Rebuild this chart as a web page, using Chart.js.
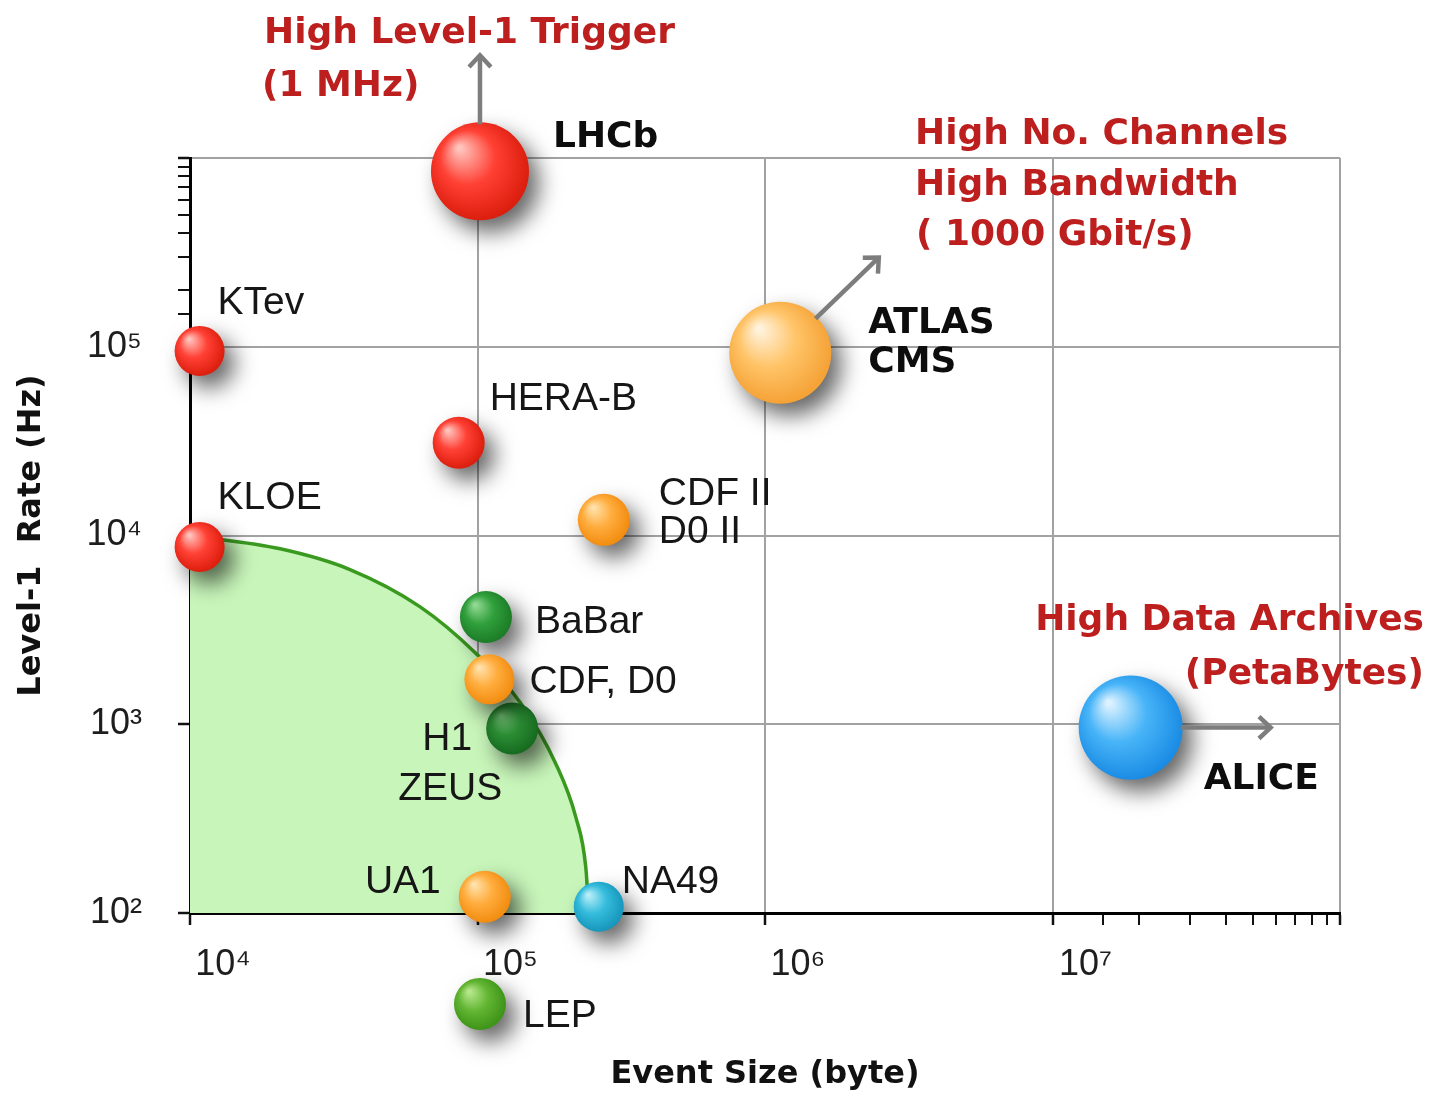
<!DOCTYPE html>
<html>
<head>
<meta charset="utf-8">
<script src="https://cdn.jsdelivr.net/npm/chart.js@4.4.1/dist/chart.umd.min.js"></script>
<style>
  html, body { margin: 0; padding: 0; background: #ffffff; }
  canvas { display: block; }
</style>
</head>
<body>
<canvas id="chart" width="1429" height="1098"></canvas>
<script>
// ---------------- DATA ----------------
const experiments = ['LHCb', 'KTev', 'HERA-B', 'KLOE', 'ATLAS / CMS', 'CDF II / D0 II',
                     'BaBar', 'H1 / ZEUS', 'CDF, D0', 'ALICE', 'UA1', 'NA49', 'LEP'];
// Event size (byte)
const eventSizes  = [1.02e5, 1.08e4, 8.6e4, 1.08e4, 1.13e6, 2.75e5,
                     1.07e5, 1.32e5, 1.10e5, 1.87e7, 1.06e5, 2.64e5, 1.02e5];
// Level-1 rate (Hz)
const level1Rates = [8.5e5, 9.5e4, 3.1e4, 8.7e3, 9.3e4, 1.21e4,
                     3.7e3, 950, 1.73e3, 960, 122, 108, 33];

// Boundary of the green "feasible" region
const boundarySizes = [1.0e4, 2.06e4, 3.6e4, 6.3e4, 9.8e4, 1.41e5, 1.87e5, 2.2e5, 2.38e5, 2.44e5];
const boundaryRates = [1.0e4, 8.5e3, 6.6e3, 4.2e3, 2.4e3, 1.3e3, 620, 320, 175, 100];

// Axis ticks
const xTickValues = [1e4, 1e5, 1e6, 1e7];
const xTickLabels = ['10⁴', '10⁵', '10⁶', '10⁷'];
const yTickValues = [1e2, 1e3, 1e4, 1e5];
const yTickLabels = ['10²', '10³', '10⁴', '10⁵'];

// ---------------- STYLE ----------------
const palette = {
  red:    { hi: '#ffc4bd', base: '#ff4034', dark: '#dc1e0e' },
  orange: { hi: '#ffe2ad', base: '#ffad3e', dark: '#f28c10' },
  peach:  { hi: '#fff3de', base: '#ffc468', dark: '#f5a236' },
  green:  { hi: '#93d994', base: '#30a03c', dark: '#1c7c27' },
  dgreen: { hi: '#72c474', base: '#2b8d34', dark: '#166a1f' },
  lgreen: { hi: '#b8e88e', base: '#63b633', dark: '#3e9418' },
  cyan:   { hi: '#b8eef8', base: '#35bcdc', dark: '#1696bb' },
  blue:   { hi: '#dcf2ff', base: '#48b4f8', dark: '#1a8ce4' }
};
const bubbleColor  = ['red', 'red', 'red', 'red', 'peach', 'orange',
                      'green', 'dgreen', 'orange', 'blue', 'orange', 'cyan', 'lgreen'];
const bubbleRadius = [49, 25, 26, 25, 51, 26, 26, 26, 25, 52, 26, 25, 26];

const FONT_REG  = 'Liberation Sans, Arial, sans-serif';
const FONT_BOLD = 'DejaVu Sans, Verdana, sans-serif';
const RED = '#bd1f1f';

// Labels next to the spheres (offsets in px from the sphere centre)
const labelSpecs = [
  { i: 0,  lines: ['LHCb'],            dx: 73,  dy: -24, bold: true },
  { i: 1,  lines: ['KTev'],            dx: 18,  dy: -37 },
  { i: 2,  lines: ['HERA-B'],          dx: 31,  dy: -33 },
  { i: 3,  lines: ['KLOE'],            dx: 18,  dy: -38 },
  { i: 4,  lines: ['ATLAS', 'CMS'],    dx: 88,  dy: -20, bold: true, lh: 39 },
  { i: 5,  lines: ['CDF II', 'D0 II'], dx: 55,  dy: -15, lh: 38 },
  { i: 6,  lines: ['BaBar'],           dx: 49,  dy: 16 },
  { i: 7,  lines: ['H1'],              dx: -40, dy: 22, align: 'right' },
  { i: 7,  lines: ['ZEUS'],            dx: -62, dy: 72, align: 'center' },
  { i: 8,  lines: ['CDF, D0'],         dx: 40,  dy: 14 },
  { i: 9,  lines: ['ALICE'],           dx: 73,  dy: 61, bold: true },
  { i: 10, lines: ['UA1'],             dx: -44, dy: -4, align: 'right' },
  { i: 11, lines: ['NA49'],            dx: 23,  dy: -14 },
  { i: 12, lines: ['LEP'],             dx: 43,  dy: 23 }
];

// Red headline annotations (canvas px)
const headlines = [
  { text: 'High Level-1 Trigger', x: 264,  y: 43,  align: 'left' },
  { text: '(1 MHz)',              x: 262,  y: 96,  align: 'left' },
  { text: 'High No. Channels',    x: 915,  y: 144, align: 'left' },
  { text: 'High Bandwidth',       x: 915,  y: 195, align: 'left' },
  { text: '( 1000 Gbit/s)',       x: 916,  y: 245, align: 'left' },
  { text: 'High Data Archives',   x: 1424, y: 630, align: 'right' },
  { text: '(PetaBytes)',          x: 1424, y: 684, align: 'right' }
];

// Arrows leaving spheres (angle in degrees, length in px from centre)
const arrowSpecs = [
  { i: 0, angle: -90, length: 116 },
  { i: 4, angle: -44, length: 137 },
  { i: 9, angle: 0,   length: 140 }
];

// ---------------- HELPERS ----------------
const isDecade = v => {
  const l = Math.log10(v);
  return Math.abs(l - Math.round(l)) < 1e-9;
};
function centre(chart, i) {
  return {
    x: chart.scales.x.getPixelForValue(eventSizes[i]),
    y: chart.scales.y.getPixelForValue(level1Rates[i])
  };
}
function sphereFill(ctx) {
  if (ctx.type !== 'data') return '#999';
  const i = ctx.dataIndex;
  const chart = ctx.chart;
  const p = palette[bubbleColor[i]];
  if (!chart.scales || !chart.scales.x || !chart.scales.y) return p.base;
  const c = centre(chart, i);
  const r = bubbleRadius[i];
  if (!isFinite(c.x) || !isFinite(c.y)) return p.base;
  const g = chart.ctx.createRadialGradient(c.x - r * 0.42, c.y - r * 0.48, r * 0.04,
                                           c.x - r * 0.08, c.y - r * 0.08, r * 1.08);
  g.addColorStop(0, p.hi);
  g.addColorStop(0.5, p.base);
  g.addColorStop(1, p.dark);
  return g;
}

// ---------------- PLUGINS ----------------
const shadowPlugin = {
  id: 'sphereShadow',
  beforeDatasetDraw(chart, args) {
    if (args.meta.type !== 'bubble') return;
    const ctx = chart.ctx;
    ctx.save();
    ctx.shadowColor = 'rgba(0,0,0,0.6)';
    ctx.shadowBlur = 22;
    ctx.shadowOffsetX = 10;
    ctx.shadowOffsetY = 12;
  },
  afterDatasetDraw(chart, args) {
    if (args.meta.type !== 'bubble') return;
    // Chart.js skips points lying outside the chart area; the reference draws
    // LEP below the x axis, so draw such elements (positioned by the scales) here.
    const ctx = chart.ctx;
    const a = chart.chartArea;
    args.meta.data.forEach(el => {
      const m = el.size(el.options) / 2;
      const inside = el.x > a.left - m && el.x < a.right + m && el.y > a.top - m && el.y < a.bottom + m;
      if (!inside) el.draw(ctx);
    });
    ctx.restore();
  }
};

const annotationPlugin = {
  id: 'annotations',
  afterDatasetsDraw(chart) {
    const ctx = chart.ctx;
    // arrows
    ctx.save();
    ctx.strokeStyle = '#7d7d7d';
    ctx.lineWidth = 4.5;
    ctx.lineCap = 'butt';
    ctx.lineJoin = 'miter';
    arrowSpecs.forEach(a => {
      const c = centre(chart, a.i);
      const ang = a.angle * Math.PI / 180;
      const r = bubbleRadius[a.i];
      const x0 = c.x + Math.cos(ang) * (r - 2), y0 = c.y + Math.sin(ang) * (r - 2);
      const x1 = c.x + Math.cos(ang) * a.length, y1 = c.y + Math.sin(ang) * a.length;
      ctx.beginPath();
      ctx.moveTo(x0, y0);
      ctx.lineTo(x1 - Math.cos(ang) * 2, y1 - Math.sin(ang) * 2);
      ctx.stroke();
      const head = 16, spread = 0.75;
      ctx.beginPath();
      ctx.moveTo(x1 - Math.cos(ang - spread) * head, y1 - Math.sin(ang - spread) * head);
      ctx.lineTo(x1, y1);
      ctx.lineTo(x1 - Math.cos(ang + spread) * head, y1 - Math.sin(ang + spread) * head);
      ctx.stroke();
    });
    ctx.restore();

    // sphere labels
    ctx.save();
    ctx.textBaseline = 'alphabetic';
    labelSpecs.forEach(s => {
      const c = centre(chart, s.i);
      ctx.font = s.bold ? 'bold 36px ' + FONT_BOLD : '39px ' + FONT_REG;
      ctx.fillStyle = s.bold ? '#0d0d0d' : '#161616';
      ctx.textAlign = s.align || 'left';
      s.lines.forEach((t, k) => {
        ctx.fillText(t, c.x + s.dx, c.y + s.dy + k * (s.lh || 38));
      });
    });
    // red headlines
    ctx.font = 'bold 36px ' + FONT_BOLD;
    ctx.fillStyle = RED;
    headlines.forEach(h => {
      ctx.textAlign = h.align;
      ctx.fillText(h.text, h.x, h.y);
    });
    ctx.restore();
  }
};

// ---------------- CHART ----------------
const tickFont = { family: FONT_REG, size: 36 };
const titleFont = { family: FONT_BOLD, size: 32, weight: 'bold' };

new Chart(document.getElementById('chart'), {
  type: 'bubble',
  data: {
    datasets: [
      {
        type: 'bubble',
        label: 'Experiments',
        data: experiments.map((n, i) => ({ x: eventSizes[i], y: level1Rates[i], r: bubbleRadius[i] })),
        backgroundColor: sphereFill,
        borderWidth: 0,
        clip: false,
        order: 1
      },
      {
        type: 'line',
        label: 'Feasible region',
        data: boundarySizes.map((x, i) => ({ x: x, y: boundaryRates[i] })),
        borderColor: '#3a9a20',
        borderWidth: 3.5,
        backgroundColor: '#c8f6ba',
        fill: 'start',
        pointRadius: 0,
        cubicInterpolationMode: 'monotone',
        order: 2
      }
    ]
  },
  options: {
    responsive: false,
    animation: false,
    events: [],
    layout: { padding: { top: 158, right: 89, bottom: 0, left: 0 } },
    plugins: {
      legend: { display: false },
      tooltip: { enabled: false }
    },
    scales: {
      x: {
        type: 'logarithmic',
        position: 'bottom',
        min: 1e4,
        max: 1e8,
        afterFit: s => { s.height = 185; },
        border: { display: true, color: '#000', width: 3 },
        grid: {
          color: c => (c.tick && isDecade(c.tick.value)) ? '#a2a2a2' : 'rgba(0,0,0,0)',
          lineWidth: c => (c.tick && isDecade(c.tick.value)) ? 2 : 0,
          tickColor: '#111',
          tickWidth: c => {
            if (!c.tick) return 0;
            if (isDecade(c.tick.value)) return 2.5;
            return c.tick.value > 1e7 ? 2 : 0;
          },
          tickLength: 12,
          drawTicks: true
        },
        ticks: {
          autoSkip: false,
          maxRotation: 0,
          font: tickFont,
          color: '#1e1e1e',
          padding: 18,
          labelOffset: 33,
          callback: v => {
            const k = xTickValues.findIndex(t => Math.abs(t - v) / t < 1e-9);
            return k >= 0 ? xTickLabels[k] : '';
          }
        },
        title: {
          display: true,
          text: 'Event Size (byte)',
          font: titleFont,
          color: '#111',
          padding: { top: 0, bottom: 4 }
        }
      },
      y: {
        type: 'logarithmic',
        position: 'left',
        min: 1e2,
        max: 1e6,
        afterFit: s => { s.width = 190; },
        border: { display: true, color: '#000', width: 3 },
        grid: {
          color: c => (c.tick && isDecade(c.tick.value)) ? '#a2a2a2' : 'rgba(0,0,0,0)',
          lineWidth: c => (c.tick && isDecade(c.tick.value)) ? 2 : 0,
          tickColor: '#111',
          tickWidth: c => {
            if (!c.tick) return 0;
            if (isDecade(c.tick.value)) return 2.5;
            return c.tick.value > 1e5 ? 2 : 0;
          },
          tickLength: 12,
          drawTicks: true
        },
        ticks: {
          autoSkip: false,
          font: tickFont,
          color: '#1e1e1e',
          padding: 36,
          callback: v => {
            const k = yTickValues.findIndex(t => Math.abs(t - v) / t < 1e-9);
            return k >= 0 ? yTickLabels[k] : '';
          }
        },
        title: {
          display: true,
          text: 'Level-1  Rate (Hz)',
          font: titleFont,
          color: '#111',
          padding: { top: 12, bottom: 0 }
        }
      }
    }
  },
  plugins: [shadowPlugin, annotationPlugin]
});
</script>
</body>
</html>
